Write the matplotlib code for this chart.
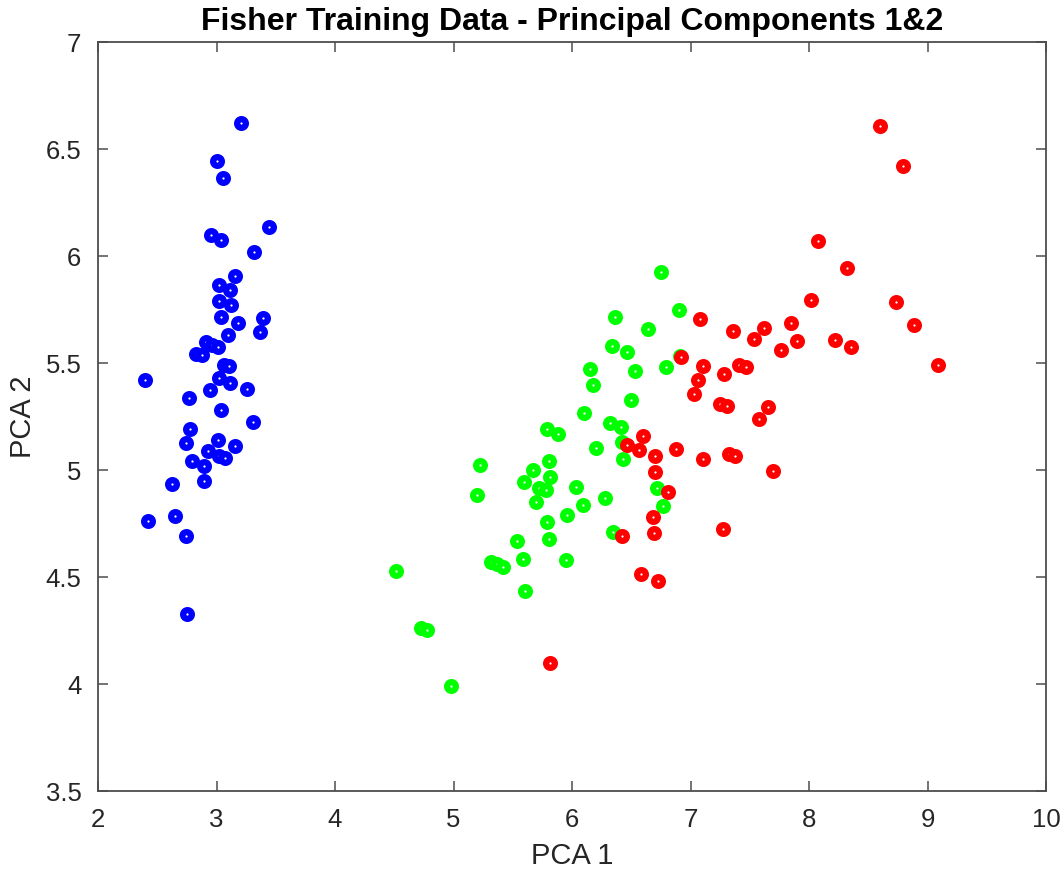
import matplotlib
matplotlib.use("Agg")
import matplotlib.pyplot as plt
import numpy as np

plt.rcParams['font.family'] = ['Liberation Sans', 'DejaVu Sans']

# Class 1 (blue)
blue_x = [3.207, 3.007, 3.055, 3.443, 2.951, 3.041, 3.319, 3.153, 3.024, 3.117,
          3.024, 3.120, 3.038, 3.392, 3.181, 3.364, 3.094, 2.911, 2.959, 3.013,
          2.827, 2.878, 3.066, 3.108, 2.394, 3.024, 3.117, 2.942, 3.257, 2.771,
          3.041, 3.311, 2.779, 2.745, 3.015, 3.153, 2.931, 3.024, 3.075, 2.796,
          2.895, 2.897, 2.627, 2.647, 2.425, 2.745, 2.748]
blue_y = [6.619, 6.444, 6.362, 6.133, 6.097, 6.075, 6.016, 5.907, 5.863, 5.841,
          5.790, 5.768, 5.715, 5.710, 5.684, 5.645, 5.629, 5.598, 5.584, 5.575,
          5.541, 5.534, 5.491, 5.483, 5.419, 5.427, 5.405, 5.372, 5.377, 5.337,
          5.279, 5.221, 5.190, 5.126, 5.140, 5.109, 5.086, 5.065, 5.056, 5.042,
          5.019, 4.947, 4.933, 4.785, 4.760, 4.690, 4.327]

# Class 2 (green)
green_x = [6.748, 6.900, 6.366, 6.638, 6.335, 6.464, 6.796, 6.155, 6.529, 6.177,
           6.498, 6.098, 6.321, 6.414, 5.792, 5.884, 6.422, 6.203, 6.433, 5.224,
           5.803, 5.671, 5.812, 5.592, 5.725, 5.781, 5.198, 6.720, 6.036, 5.694,
           6.281, 6.771, 6.095, 5.961, 5.792, 6.343, 5.809, 5.533, 5.589, 5.946,
           5.316, 5.364, 5.420, 4.517, 5.606, 4.723, 4.774, 4.982, 6.910]
green_y = [5.922, 5.745, 5.715, 5.656, 5.578, 5.549, 5.478, 5.472, 5.463, 5.394,
           5.326, 5.266, 5.218, 5.198, 5.189, 5.168, 5.128, 5.100, 5.050, 5.022,
           5.042, 4.999, 4.966, 4.941, 4.914, 4.904, 4.883, 4.914, 4.919, 4.848,
           4.866, 4.832, 4.834, 4.790, 4.754, 4.707, 4.678, 4.665, 4.581, 4.577,
           4.567, 4.558, 4.546, 4.525, 4.433, 4.260, 4.251, 3.989, 5.530]

# Class 3 (red)
red_x = [7.083, 6.920, 7.102, 7.060, 7.027, 6.599, 6.464, 6.565, 6.875, 6.703,
         7.103, 6.703, 6.813, 6.684, 6.689, 6.422, 6.580, 6.723, 5.811,
         8.596, 8.793, 8.072, 8.319, 8.014, 8.737, 8.883, 7.359, 7.623, 7.848,
         7.536, 7.901, 8.219, 8.357, 7.766, 9.086, 7.411, 7.466, 7.280,
         7.252, 7.305, 7.656, 7.578, 7.321, 7.376, 7.699, 7.274]
red_y = [5.706, 5.525, 5.483, 5.421, 5.354, 5.159, 5.115, 5.092, 5.098, 5.063,
         5.049, 4.991, 4.894, 4.779, 4.704, 4.690, 4.511, 4.480, 4.098,
         6.608, 6.421, 6.070, 5.944, 5.793, 5.782, 5.678, 5.647, 5.661, 5.684,
         5.609, 5.600, 5.606, 5.575, 5.558, 5.489, 5.489, 5.478, 5.447,
         5.309, 5.297, 5.292, 5.237, 5.075, 5.063, 4.993, 4.723]

x_ticks = [2, 3, 4, 5, 6, 7, 8, 9, 10]
y_ticks = [3.5, 4, 4.5, 5, 5.5, 6, 6.5, 7]
y_tick_labels = ['3.5', '4', '4.5', '5', '5.5', '6', '6.5', '7']

fig = plt.figure(figsize=(10.6, 8.79), dpi=100)
ax = fig.add_axes([0.0925, 0.0993, 0.8943, 0.8521])

mk = dict(marker='o', linestyle='none', markersize=6.3, markeredgewidth=4.5,
          markerfacecolor='white')
ax.plot(blue_x, blue_y, markeredgecolor='#0000ff', **mk)
ax.plot(green_x, green_y, markeredgecolor='#00ff00', **mk)
ax.plot(red_x, red_y, markeredgecolor='#ff0000', **mk)

ax.set_xlim(2, 10)
ax.set_ylim(3.5, 7)
ax.set_xticks(x_ticks)
ax.set_xticklabels([str(t) for t in x_ticks])
ax.set_yticks(y_ticks)
ax.set_yticklabels(y_tick_labels)

for s in ax.spines.values():
    s.set_color('#4d4d4d')
    s.set_linewidth(1.3)
ax.tick_params(direction='in', length=7, width=1.1, color='#4d4d4d',
               top=True, right=True, labelsize=18.5, labelcolor='#262626')
ax.tick_params(axis='x', pad=12)
ax.tick_params(axis='y', pad=12)

ax.set_xlabel('PCA 1', fontsize=21, color='#262626', labelpad=7)
ax.set_ylabel('PCA 2', fontsize=21, color='#262626', labelpad=6)
ax.set_title('Fisher Training Data - Principal Components 1&2', fontsize=23,
             fontweight='bold', pad=9)

fig.savefig('out.png', dpi=100)
